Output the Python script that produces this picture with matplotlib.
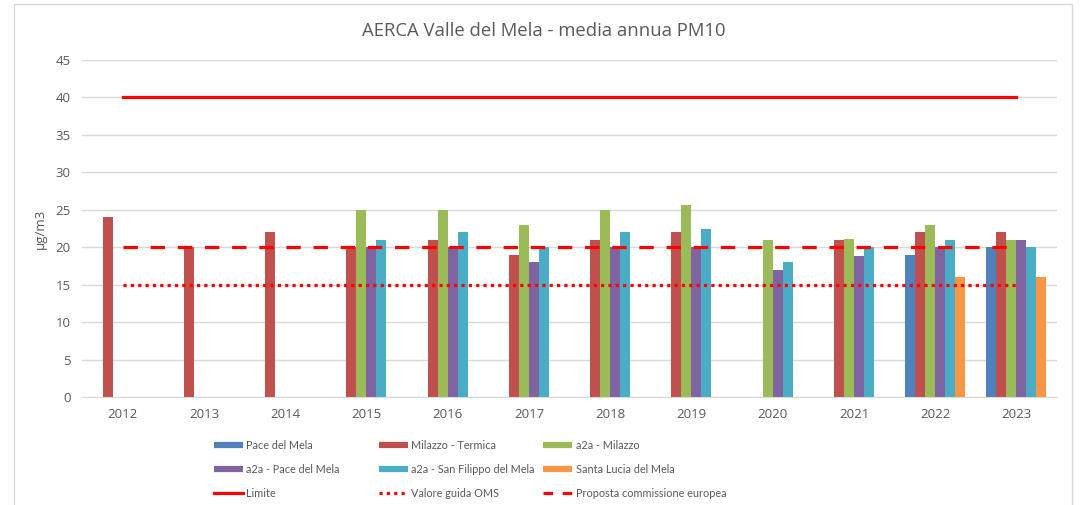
import numpy as np
import matplotlib.pyplot as plt
from matplotlib.lines import Line2D
from matplotlib.patches import Rectangle

anni = ['2012', '2013', '2014', '2015', '2016', '2017', '2018', '2019',
        '2020', '2021', '2022', '2023']
nan = np.nan
pace_del_mela = [nan, nan, nan, nan, nan, nan, nan, nan, nan, nan, 19, 20]
milazzo_termica = [24, 20, 22, 20, 21, 19, 21, 22, nan, 21, 22, 22]
a2a_milazzo = [nan, nan, nan, 25, 25, 23, 25, 25.7, 21, 21.1, 23, 21]
a2a_pace = [nan, nan, nan, 20, 20, 18, 20, 20, 17, 18.8, 20, 21]
a2a_san_filippo = [nan, nan, nan, 21, 22, 20, 22, 22.5, 18, 20.1, 21, 20]
santa_lucia = [nan, nan, nan, nan, nan, nan, nan, nan, nan, nan, 16, 16]

serie = [
    ('Pace del Mela', pace_del_mela, '#4F81BD'),
    ('Milazzo - Termica', milazzo_termica, '#C0504D'),
    ('a2a - Milazzo', a2a_milazzo, '#9BBB59'),
    ('a2a - Pace del Mela', a2a_pace, '#8064A2'),
    ('a2a - San Filippo del Mela', a2a_san_filippo, '#4BACC6'),
    ('Santa Lucia del Mela', santa_lucia, '#F79646'),
]
limite = 40
valore_oms = 15
proposta_ue = 20

grigio = '#595959'
plt.rcParams['font.family'] = ['Open Sans', 'DejaVu Sans']

fig = plt.figure(figsize=(10.81, 5.05), dpi=100)
ax = fig.add_axes([0.0759, 0.2133, 0.902, 0.668])

x = np.arange(len(anni))
w = 0.123
for i, (nome, vals, col) in enumerate(serie):
    ax.bar(x + (i - 2.5) * w, vals, w, color=col, zorder=2)

ax.plot([x[0], x[-1]], [limite, limite], color='#FF0000', lw=2.3, zorder=3)
ax.plot([x[0], x[-1]], [proposta_ue, proposta_ue], color='#FF0000', lw=2.3,
        linestyle=(0, (4.5, 4)), zorder=3)
ax.plot([x[0], x[-1]], [valore_oms, valore_oms], color='#FF0000', lw=2.3,
        linestyle=(0, (1, 1.3)), zorder=3)

ax.set_xlim(-0.5, len(anni) - 0.5)
ax.set_ylim(0, 45)
ax.set_yticks(range(0, 46, 5))
ax.set_xticks(x)
ax.set_xticklabels(anni)
ax.grid(axis='y', color='#D9D9D9', lw=1, zorder=0)
for s in ['top', 'right', 'left']:
    ax.spines[s].set_visible(False)
ax.spines['bottom'].set_color('#D9D9D9')
ax.tick_params(axis='both', length=0, colors=grigio, labelsize=9.5)
ax.tick_params(axis='x', pad=8)
ax.tick_params(axis='y', pad=8)
ax.set_ylabel('µg/m3', color=grigio, fontsize=9.5, labelpad=6)
fig.text(0.503, 0.938, 'AERCA Valle del Mela - media annua PM10', color=grigio,
         fontsize=13.3, ha='center', va='center')

# legenda in tre colonne
maniglie = [Line2D([], [], color=c, lw=4.5, solid_capstyle='butt')
            for _, _, c in serie]
maniglie += [Line2D([], [], color='#FF0000', lw=2.3),
             Line2D([], [], color='#FF0000', lw=2.3, linestyle=(0, (1, 1.3))),
             Line2D([], [], color='#FF0000', lw=2.3, linestyle=(0, (3, 3)))]
etichette = [s[0] for s in serie] + ['Limite', 'Valore guida OMS',
                                     'Proposta commissione europea']
for c, xpos in enumerate([0.1928, 0.3455, 0.4975]):
    idx = [c, c + 3, c + 6]
    leg = fig.legend([maniglie[i] for i in idx], [etichette[i] for i in idx],
                     loc='upper left', bbox_to_anchor=(xpos, 0.14),
                     frameon=False, prop={'family': 'Lato', 'size': 7.8},
                     handlelength=2.7, handletextpad=0.3, labelspacing=1.2,
                     borderpad=0)
    for t in leg.get_texts():
        t.set_color(grigio)

fig.patches.append(Rectangle((14 / 1081, -0.01), 1058 / 1081, 1.0 - 4 / 505 + 0.01,
                             transform=fig.transFigure, fill=False,
                             edgecolor='#D9D9D9', lw=1))

fig.savefig('out.png', dpi=100)
